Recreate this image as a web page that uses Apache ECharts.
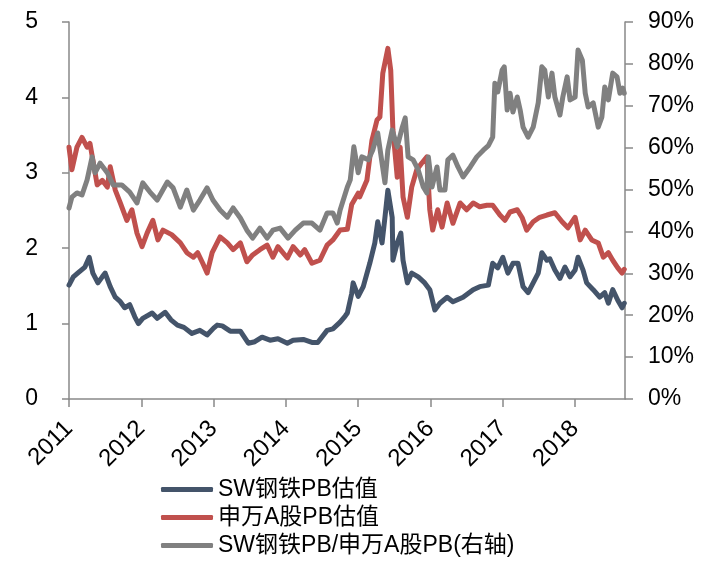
<!DOCTYPE html>
<html>
<head>
<meta charset="utf-8">
<script src="https://cdn.jsdelivr.net/npm/echarts@6/dist/echarts.min.js"></script>
<style>
  html, body { margin: 0; padding: 0; background: #fff; }
  #main { width: 721px; height: 563px; }
</style>
</head>
<body>
<div id="main"></div>
<script>
// 图例名称
var names = ['SW钢铁PB估值', '申万A股PB估值', 'SW钢铁PB/申万A股PB(右轴)'];

// SW钢铁PB估值 (时间为小数年份)
var steelT = [2011.00,2011.06,2011.12,2011.22,2011.28,2011.33,2011.40,2011.46,2011.50,2011.57,2011.64,2011.71,2011.77,2011.84,2011.91,2011.96,
  2012.02,2012.15,2012.22,2012.33,2012.41,2012.50,2012.59,2012.70,2012.81,2012.91,2013.00,2013.05,2013.12,2013.23,2013.37,2013.48,
  2013.57,2013.67,2013.78,2013.89,2014.02,2014.10,2014.24,2014.36,2014.44,2014.57,2014.65,2014.75,2014.82,2014.85,
  2014.91,2014.93,2015.00,2015.07,2015.16,2015.23,2015.27,2015.33,2015.37,2015.41,2015.47,2015.48,2015.54,2015.59,
  2015.62,2015.68,2015.74,2015.83,2015.92,2015.99,2016.06,2016.13,2016.23,2016.31,2016.45,2016.59,2016.68,2016.80,
  2016.86,2016.93,2017.00,2017.07,2017.14,2017.21,2017.28,2017.35,2017.42,2017.49,2017.54,2017.61,2017.65,2017.72,
  2017.79,2017.86,2017.93,2018.00,2018.04,2018.11,2018.16,2018.25,2018.34,2018.41,2018.46,2018.52,2018.59,2018.65,2018.68];
var steelPB = [1.51,1.62,1.67,1.75,1.88,1.67,1.54,1.62,1.67,1.49,1.35,1.29,1.21,1.25,1.09,1.00,
  1.07,1.14,1.07,1.15,1.05,0.98,0.95,0.87,0.91,0.85,0.94,0.98,0.97,0.90,0.90,0.74,
  0.76,0.82,0.78,0.80,0.74,0.78,0.79,0.75,0.75,0.91,0.93,1.02,1.10,1.14,
  1.40,1.54,1.36,1.49,1.80,2.07,2.35,2.07,2.41,2.77,2.41,1.84,2.07,2.20,
  1.84,1.54,1.67,1.62,1.54,1.45,1.18,1.27,1.35,1.29,1.35,1.45,1.49,1.51,
  1.80,1.74,1.88,1.67,1.80,1.80,1.49,1.41,1.54,1.67,1.94,1.84,1.86,1.71,
  1.60,1.75,1.62,1.71,1.88,1.71,1.54,1.45,1.35,1.41,1.27,1.45,1.31,1.21,1.27];

// 申万A股PB估值
var marketT = [2011.00,2011.04,2011.11,2011.18,2011.25,2011.29,2011.33,2011.39,2011.46,2011.53,2011.57,2011.64,
  2011.71,2011.80,2011.87,2011.94,2012.01,2012.08,2012.16,2012.23,2012.30,2012.42,2012.54,2012.63,2012.72,2012.78,
  2012.85,2012.91,2012.98,2013.09,2013.19,2013.27,2013.37,2013.46,2013.54,2013.64,2013.74,2013.82,2013.89,2014.02,
  2014.10,2014.20,2014.26,2014.36,2014.47,2014.57,2014.65,2014.75,2014.85,2014.91,2015.00,2015.02,2015.12,2015.19,
  2015.26,2015.30,2015.34,2015.41,2015.45,2015.48,2015.54,2015.58,2015.62,2015.68,2015.74,2015.81,2015.88,2015.95,
  2015.99,2016.03,2016.10,2016.16,2016.23,2016.31,2016.41,2016.50,2016.59,2016.68,2016.78,2016.86,2016.96,2017.03,
  2017.10,2017.20,2017.27,2017.33,2017.42,2017.51,2017.61,2017.72,2017.82,2017.90,2018.00,2018.07,2018.14,2018.23,
  2018.32,2018.39,2018.46,2018.52,2018.59,2018.65,2018.68];
var marketPB = [3.34,3.04,3.34,3.47,3.34,3.39,3.17,2.84,2.90,2.81,3.08,2.77,
  2.60,2.37,2.51,2.20,2.02,2.20,2.37,2.11,2.24,2.18,2.07,1.94,1.88,1.94,
  1.80,1.67,1.94,2.15,2.07,1.98,2.07,1.82,1.91,1.98,2.04,1.88,2.02,1.87,
  2.02,1.91,1.98,1.80,1.84,2.04,2.11,2.24,2.25,2.58,2.73,2.68,2.90,3.43,
  3.70,3.74,4.32,4.65,4.36,3.57,2.94,3.34,2.68,2.41,2.81,3.04,3.13,3.21,
  2.51,2.24,2.51,2.28,2.60,2.33,2.60,2.51,2.60,2.55,2.57,2.57,2.44,2.37,
  2.48,2.51,2.40,2.24,2.35,2.41,2.44,2.47,2.35,2.27,2.41,2.11,2.24,2.11,
  2.07,1.88,1.94,1.84,1.74,1.67,1.72];

// SW钢铁PB/申万A股PB (%)
var ratioT = [2011.00,2011.04,2011.11,2011.18,2011.25,2011.32,2011.36,2011.43,2011.53,2011.61,2011.73,2011.84,
  2011.94,2012.02,2012.12,2012.22,2012.36,2012.44,2012.54,2012.63,2012.72,2012.81,2012.91,2012.99,2013.09,2013.19,
  2013.27,2013.37,2013.46,2013.54,2013.64,2013.74,2013.82,2013.92,2014.03,2014.13,2014.24,2014.36,2014.47,2014.57,
  2014.65,2014.71,2014.75,2014.85,2014.89,2014.94,2015.00,2015.05,2015.14,2015.20,2015.27,2015.33,2015.37,2015.41,
  2015.47,2015.54,2015.61,2015.65,2015.69,2015.76,2015.83,2015.90,2015.95,2015.97,2016.02,2016.09,2016.13,2016.20,
  2016.24,2016.31,2016.38,2016.45,2016.55,2016.64,2016.73,2016.80,2016.86,2016.89,2016.93,2016.99,2017.02,2017.06,
  2017.10,2017.14,2017.20,2017.24,2017.28,2017.35,2017.42,2017.49,2017.54,2017.58,2017.63,2017.68,2017.72,2017.79,
  2017.83,2017.89,2017.93,2018.00,2018.04,2018.10,2018.14,2018.18,2018.25,2018.32,2018.37,2018.41,2018.46,2018.52,
  2018.58,2018.62,2018.66,2018.68];
var ratioPct = [45.6,48.2,49.2,48.7,52.3,57.8,54.0,56.3,54.0,51.1,51.1,49.4,
  46.8,51.6,49.4,47.5,51.8,50.4,45.8,49.9,45.1,47.5,50.4,47.5,45.1,43.4,
  45.6,43.2,40.3,38.4,40.8,38.4,40.3,40.8,38.4,40.3,42.0,42.0,40.3,44.4,
  44.4,42.0,45.1,50.6,52.3,60.2,54.0,57.8,57.1,59.4,63.5,56.3,51.6,59.4,
  64.2,60.2,64.9,67.1,57.8,57.1,54.7,50.6,49.2,57.8,50.6,55.4,49.9,49.9,
  57.1,58.2,55.4,53.0,55.4,57.8,59.4,60.5,62.5,75.4,73.3,78.5,79.3,69.0,
  73.0,68.5,72.1,69.0,64.9,62.5,64.9,70.7,79.3,78.5,72.1,77.8,72.1,67.8,
  72.1,76.9,71.4,72.1,83.3,80.9,73.0,69.7,70.7,64.9,67.3,74.5,71.4,77.8,
  76.9,73.0,74.2,73.0];

function pairs(t, v) {
    return t.map(function (x, i) { return [x, v[i]]; });
}

var font = "'Liberation Sans', Arial, 'Noto Sans CJK SC', sans-serif";
var axisColor = '#898989';

var myChart = echarts.init(document.getElementById('main'));

var option = {
    backgroundColor: '#fff',
    animation: false,
    textStyle: { fontFamily: font },
    grid: { left: 69, right: 96, top: 22, bottom: 164 },
    legend: {
        orient: 'vertical',
        left: 161,
        top: 478,
        height: 120,
        padding: 0,
        itemWidth: 52,
        itemHeight: 5,
        itemGap: 5,
        icon: 'roundRect',
        textStyle: { fontSize: 23, color: '#000', fontFamily: font },
        data: names
    },
    xAxis: {
        type: 'value',
        min: 2011,
        max: 2018.69,
        interval: 1,
        splitLine: { show: false },
        axisLine: { lineStyle: { color: axisColor, width: 1.5 } },
        axisTick: { length: 8, lineStyle: { color: axisColor, width: 1.5 } },
        axisLabel: {
            rotate: 45,
            margin: 26,
            fontSize: 24,
            color: '#000',
            showMaxLabel: false,
            formatter: function (v) {
                return Math.abs(v - Math.round(v)) < 1e-6 ? String(Math.round(v)) : '';
            }
        }
    },
    yAxis: [
        {
            type: 'value',
            min: 0, max: 5, interval: 1,
            splitLine: { show: false },
            axisLine: { show: true, lineStyle: { color: axisColor, width: 1.5 } },
            axisTick: { show: true, length: 7, lineStyle: { color: axisColor, width: 1.5 } },
            axisLabel: { fontSize: 23, color: '#000', margin: 31 }
        },
        {
            type: 'value',
            min: 0, max: 90, interval: 10,
            position: 'right',
            splitLine: { show: false },
            axisLine: { show: true, lineStyle: { color: axisColor, width: 1.5 } },
            axisTick: { show: true, length: 8, lineStyle: { color: axisColor, width: 1.5 } },
            axisLabel: { fontSize: 23, color: '#000', margin: 23, formatter: '{value}%' }
        }
    ],
    series: [
        {
            name: names[0], type: 'line', yAxisIndex: 0, showSymbol: false,
            color: '#44546A',
            lineStyle: { width: 5, cap: 'round', join: 'round' },
            data: pairs(steelT, steelPB)
        },
        {
            name: names[1], type: 'line', yAxisIndex: 0, showSymbol: false,
            color: '#C0504D',
            lineStyle: { width: 5, cap: 'round', join: 'round' },
            data: pairs(marketT, marketPB)
        },
        {
            name: names[2], type: 'line', yAxisIndex: 1, showSymbol: false,
            color: '#808080',
            lineStyle: { width: 5, cap: 'round', join: 'round' },
            data: pairs(ratioT, ratioPct)
        }
    ]
};

myChart.setOption(option);
</script>
</body>
</html>
